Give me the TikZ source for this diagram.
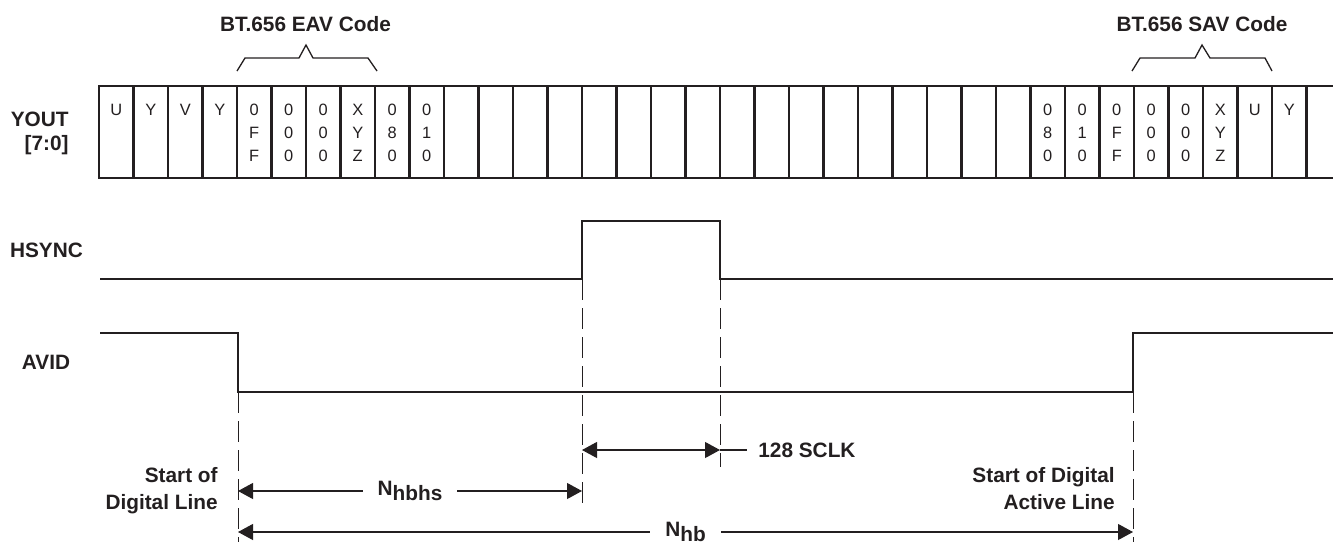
\documentclass[tikz,border=0pt]{standalone}
\usepackage{fontspec}
\setmainfont{Liberation Sans}
\usetikzlibrary{arrows.meta}
\definecolor{ink}{RGB}{35,31,32}
\begin{document}
\begin{tikzpicture}[x=0.5pt,y=-0.5pt,
  lbl/.style={font=\fontsize{10.4}{13.5}\selectfont\bfseries, text=ink, inner sep=0pt},
  celltxt/.style={font=\fontsize{8.2}{11.5}\selectfont, text=ink, inner sep=0pt, anchor=base},
  bus/.style={draw=ink, line width=1.35pt, line join=miter},
  wave/.style={draw=ink, line width=1.15pt, line join=miter},
  guide/.style={draw=ink, line width=0.5pt, dash pattern=on 10.5pt off 4pt},
  thin/.style={draw=ink, line width=0.55pt},
  dimarrow/.style={thin, {Triangle[length=7.5pt,width=8pt]}-{Triangle[length=7.5pt,width=8pt]}},
  brace/.style={draw=ink, line width=0.65pt, line join=miter},
  gaplbl/.style={lbl, fill=white, inner xsep=7.5pt, inner ysep=1pt}]
\useasboundingbox (0,0) rectangle (1333,542);

% ---------- bus YOUT[7:0] ----------
\draw[bus] (1333,86) -- (99,86) -- (99,178) -- (1333,178);
\foreach \k in {1,...,35} \draw[bus] ({99+34.5*\k},86) -- ({99+34.5*\k},178);

\foreach \k/\t in {0/U,1/Y,2/V,3/Y,4/0,5/0,6/0,7/X,8/0,9/0,27/0,28/0,29/0,30/0,31/0,32/X,33/U,34/Y}
  \node[celltxt] (ra\k) at ({116.25+34.5*\k},115) {\t};
\foreach \k/\t in {4/F,5/0,6/0,7/Y,8/8,9/1,27/8,28/1,29/F,30/0,31/0,32/Y}
  \node[celltxt] (rb\k) at ({116.25+34.5*\k},138) {\t};
\foreach \k/\t in {4/F,5/0,6/0,7/Z,8/0,9/0,27/0,28/0,29/F,30/0,31/0,32/Z}
  \node[celltxt] (rc\k) at ({116.25+34.5*\k},161) {\t};

% ---------- code braces ----------
\draw[brace] (237,71) -- (245,58) -- (299,58) -- (306,45) -- (313,58) -- (368,58) -- (377,71);
\draw[brace] (1132,71) -- (1140,58) -- (1195,58) -- (1202,45) -- (1210,58) -- (1265,58) -- (1272,71);
\node[lbl] (eav) at (305.5,24.5) {BT.656 EAV Code};
\node[lbl] (sav) at (1202,24.5) {BT.656 SAV Code};

% ---------- signal labels ----------
\node[lbl, align=right, anchor=east, font=\fontsize{10.4}{12}\selectfont\bfseries] (yout) at (69,133) {YOUT\\{[7:0]}};
\node[lbl] (hsync) at (46.5,250) {HSYNC};
\node[lbl] (avid) at (46,362.5) {AVID};

% ---------- waveforms ----------
\coordinate (hsR) at (582,279);
\coordinate (hsF) at (720,279);
\coordinate (avF) at (238,392);
\coordinate (avR) at (1133,392);
\draw[wave] (100,279) -- (hsR) -- (582,221) -- (720,221) -- (hsF) -- (1333,279);
\draw[wave] (100,333) -- (238,333) -- (avF) -- (avR) -- (1133,333) -- (1333,333);

% ---------- guide lines ----------
\coordinate (gA) at (238,542);
\coordinate (gB) at (582,508);
\coordinate (gC) at (720,467);
\coordinate (gD) at (1133,542);
\draw[guide] (avF) -- (gA);
\draw[guide] (hsR) -- (gB);
\draw[guide] (hsF) -- (gC);
\draw[guide] (avR) -- (gD);

% ---------- dimensions ----------
\coordinate (s1) at (582,450);
\coordinate (s2) at (720,450);
\coordinate (s3) at (747,450);
\draw[dimarrow] (s1) -- (s2);
\draw[thin] (s2) -- (s3);
\node[lbl, anchor=west] (sclk) at (758,450) {128 SCLK};

\coordinate (h1) at (238,491);
\coordinate (h2) at (582,491);
\draw[dimarrow] (h1) -- node[gaplbl] (nhbhs) {N\raisebox{-2.5pt}{hbhs}} (h2);

\coordinate (b1) at (238,532);
\coordinate (b2) at (1133,532);
\draw[dimarrow] (b1) -- node[gaplbl] (nhb) {N\raisebox{-2.5pt}{hb}} (b2);

\node[lbl, align=right, anchor=east] (sodl) at (218,491) {Start of\\Digital Line};
\node[lbl, align=right, anchor=east] (sodal) at (1115,489) {Start of Digital\\Active Line};
\end{tikzpicture}
\end{document}
